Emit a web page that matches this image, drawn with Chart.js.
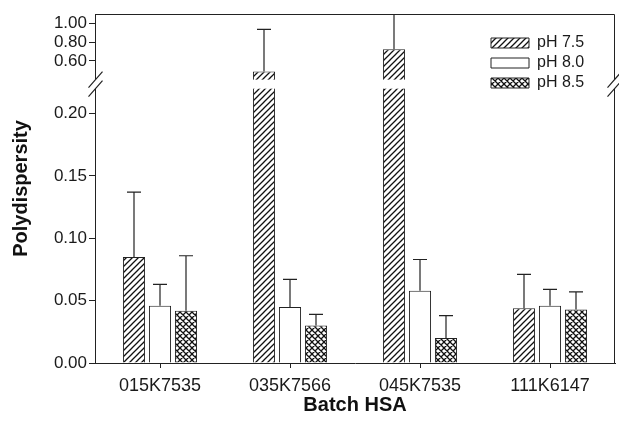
<!DOCTYPE html>
<html>
<head>
<meta charset="utf-8">
<script src="https://cdn.jsdelivr.net/npm/chart.js@4.4.1/dist/chart.umd.min.js"></script>
<style>
html, body { margin: 0; padding: 0; background: #fff; }
</style>
</head>
<body>
<canvas id="polydispersity" width="619" height="429"></canvas>
<script>
const batches = ['015K7535', '035K7566', '045K7535', '111K6147'];
const phLabels = ['pH 7.5', 'pH 8.0', 'pH 8.5'];
const ph75 = [0.085, 0.486, 0.724, 0.044];
const ph80 = [0.046, 0.045, 0.058, 0.046];
const ph85 = [0.042, 0.030, 0.020, 0.043];
const ph75Err = [0.052, 0.450, 0.450, 0.027];
const ph80Err = [0.017, 0.022, 0.025, 0.013];
const ph85Err = [0.044, 0.009, 0.018, 0.014];
const yTicks = [0, 0.05, 0.10, 0.15, 0.20, 0.60, 0.80, 1.00];

// y axis is cut between lowMax and upMin; shares are fractions of the axis height
const yBreak = { lowMax: 0.22, upMin: 0.40, max: 1.10, lowShare: 0.786, gapShare: 0.026 };

class BrokenLinearScale extends Chart.LinearScale {
    getPixelForValue(value) {
        if (value === null || isNaN(value)) return NaN;
        const b = yBreak;
        const upShare = 1 - b.lowShare - b.gapShare;
        let dec;
        if (value <= b.lowMax) {
            dec = value / b.lowMax * b.lowShare;
        } else if (value < b.upMin) {
            dec = b.lowShare + (value - b.lowMax) / (b.upMin - b.lowMax) * b.gapShare;
        } else {
            dec = b.lowShare + b.gapShare + (value - b.upMin) / (b.max - b.upMin) * upShare;
        }
        return this.getPixelForDecimal(dec);
    }
    getValueForPixel(pixel) {
        const b = yBreak;
        const upShare = 1 - b.lowShare - b.gapShare;
        const dec = this.getDecimalForPixel(pixel);
        if (dec <= b.lowShare) return dec / b.lowShare * b.lowMax;
        if (dec < b.lowShare + b.gapShare) {
            return b.lowMax + (dec - b.lowShare) / b.gapShare * (b.upMin - b.lowMax);
        }
        return b.upMin + (dec - b.lowShare - b.gapShare) / upShare * (b.max - b.upMin);
    }
}
BrokenLinearScale.id = 'brokenLinear';
BrokenLinearScale.defaults = Chart.LinearScale.defaults;
Chart.register(BrokenLinearScale);

function makePattern(cross) {
    const size = 6;
    const c = document.createElement('canvas');
    c.width = size;
    c.height = size;
    const g = c.getContext('2d');
    g.fillStyle = '#fff';
    g.fillRect(0, 0, size, size);
    g.strokeStyle = '#111';
    g.lineWidth = 1.3;
    g.beginPath();
    g.moveTo(-1, size + 1); g.lineTo(size + 1, -1);
    g.moveTo(-1, 1); g.lineTo(1, -1);
    g.moveTo(size - 1, size + 1); g.lineTo(size + 1, size - 1);
    if (cross) {
        g.moveTo(-1, -1); g.lineTo(size + 1, size + 1);
        g.moveTo(size - 1, -1); g.lineTo(size + 1, 1);
        g.moveTo(-1, size - 1); g.lineTo(1, size + 1);
    }
    g.stroke();
    return g.createPattern(c, 'repeat');
}

const errorBars = {
    id: 'errorBars',
    afterDatasetsDraw(chart) {
        const { ctx, chartArea } = chart;
        const y = chart.scales.y;
        ctx.save();
        ctx.strokeStyle = '#222';
        ctx.lineWidth = 1.2;
        chart.data.datasets.forEach((ds, i) => {
            chart.getDatasetMeta(i).data.forEach((bar, j) => {
                const top = y.getPixelForValue(ds.data[j] + ds.errors[j]);
                ctx.beginPath();
                ctx.moveTo(bar.x, bar.y);
                ctx.lineTo(bar.x, Math.max(top, chartArea.top));
                if (top >= chartArea.top) {
                    ctx.moveTo(bar.x - 7, top);
                    ctx.lineTo(bar.x + 7, top);
                }
                ctx.stroke();
            });
        });
        ctx.restore();
    }
};

const axisBreak = {
    id: 'axisBreak',
    afterDatasetsDraw(chart) {
        const { ctx, chartArea } = chart;
        const y = chart.scales.y;
        const gapTop = y.getPixelForValue(yBreak.upMin);
        const gapBottom = y.getPixelForValue(yBreak.lowMax);
        const left = Math.round(chartArea.left) + 0.5;
        const right = Math.round(chartArea.right) - 0.5;
        const top = Math.round(chartArea.top) + 0.5;
        ctx.save();
        ctx.fillStyle = '#fff';
        // cut the tall bars
        chart.data.datasets.forEach((ds, i) => {
            chart.getDatasetMeta(i).data.forEach((bar, j) => {
                if (ds.data[j] > yBreak.lowMax) {
                    ctx.fillRect(bar.x - bar.width / 2 - 1, gapTop, bar.width + 2, gapBottom - gapTop);
                }
            });
        });
        ctx.fillRect(left - 2, gapTop, 4, gapBottom - gapTop);
        // frame on top and right
        ctx.strokeStyle = '#222';
        ctx.lineWidth = 1;
        ctx.beginPath();
        ctx.moveTo(left, top);
        ctx.lineTo(right, top);
        ctx.lineTo(right, gapTop);
        ctx.moveTo(right, gapBottom);
        ctx.lineTo(right, Math.round(chartArea.bottom) + 0.5);
        ctx.stroke();
        // slashes
        ctx.lineWidth = 1.2;
        ctx.beginPath();
        [left, right].forEach(cx => {
            [gapTop, gapBottom].forEach(cy => {
                ctx.moveTo(cx - 7, cy + 8);
                ctx.lineTo(cx + 7, cy - 8);
            });
        });
        ctx.stroke();
        ctx.restore();
    }
};

const legendPlacement = {
    id: 'legendPlacement',
    afterLayout(chart) {
        chart.legend.left = 487;
        chart.legend.top = 31;
    }
};

function renderChart() {
    Chart.defaults.font.family = '"Liberation Sans", Arial, sans-serif';
    Chart.defaults.color = '#1a1a1a';
    const fills = [makePattern(false), '#fff', makePattern(true)];
    const values = [ph75, ph80, ph85];
    const errs = [ph75Err, ph80Err, ph85Err];

    new Chart(document.getElementById('polydispersity'), {
        type: 'bar',
        data: {
            labels: batches,
            datasets: phLabels.map((label, i) => ({
                label: label,
                data: values[i],
                errors: errs[i],
                backgroundColor: fills[i],
                borderColor: '#222',
                borderWidth: 1,
                categoryPercentage: 0.6,
                barPercentage: 0.85
            }))
        },
        options: {
            responsive: false,
            animation: false,
            layout: { padding: { top: 14, right: 4, left: 0, bottom: 0 } },
            plugins: {
                legend: {
                    position: 'chartArea',
                    align: 'start',
                    labels: {
                        boxWidth: 38,
                        boxHeight: 10,
                        padding: 4,
                        font: { size: 16 },
                        color: '#1a1a1a'
                    }
                },
                tooltip: { enabled: false }
            },
            scales: {
                x: {
                    afterFit: s => { s.height = 66; },
                    ticks: { font: { size: 18 }, color: '#1a1a1a', padding: 7 },
                    grid: { offset: false, drawOnChartArea: false, tickLength: 5, color: '#222' },
                    border: { color: '#222' },
                    title: {
                        display: true,
                        text: 'Batch HSA',
                        font: { size: 20, weight: 'bold' },
                        color: '#111',
                        padding: { bottom: 12 }
                    }
                },
                y: {
                    type: 'brokenLinear',
                    min: 0,
                    max: yBreak.max,
                    afterBuildTicks: s => { s.ticks = yTicks.map(v => ({ value: v })); },
                    afterFit: s => { s.width = 95; },
                    ticks: {
                        autoSkip: false,
                        callback: v => v.toFixed(2),
                        font: { size: 17 },
                        color: '#1a1a1a',
                        padding: 2
                    },
                    grid: { drawOnChartArea: false, tickLength: 6, color: '#222' },
                    border: { color: '#222' },
                    title: {
                        display: true,
                        text: 'Polydispersity',
                        font: { size: 20, weight: 'bold' },
                        color: '#111',
                        padding: { top: 9 }
                    }
                }
            }
        },
        plugins: [errorBars, axisBreak, legendPlacement]
    });
}

window.onload = renderChart;
</script>
</body>
</html>
